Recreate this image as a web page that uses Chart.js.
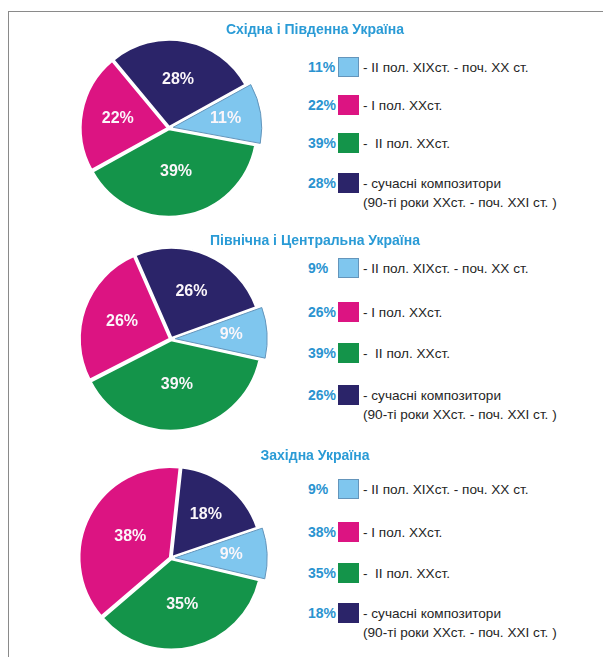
<!DOCTYPE html>
<html>
<head>
<meta charset="utf-8">
<script src="https://cdn.jsdelivr.net/npm/chart.js@4.4.1/dist/chart.umd.min.js"></script>
<style>
  html, body { margin: 0; padding: 0; background: #fff; overflow: hidden; }
  body { width: 603px; height: 657px; position: relative; font-family: Arial, "Liberation Sans", sans-serif; }
  .frame { position: absolute; left: 8px; top: 11px; right: -2px; bottom: -2px; border-top: 1px solid #8a8a8a; border-left: 1px solid #8a8a8a; }
  canvas { position: absolute; }
  .title { position: absolute; width: 280px; margin-left: -140px; text-align: center; color: #2a9bd6; font-weight: bold; font-size: 14px; line-height: 16px; }
  .row { position: absolute; left: 308px; height: 20px; }
  .pct { position: absolute; left: 0; top: 2px; color: #2a93d0; font-weight: bold; font-size: 14px; line-height: 16px; }
  .box { position: absolute; left: 30px; top: 0; width: 21px; height: 20px; box-sizing: border-box; }
  .lbl { position: absolute; left: 55px; top: 1px; white-space: pre; color: #252525; font-size: 13.6px; line-height: 19px; }
</style>
</head>
<body>
<div class="frame"></div>

<script>
// categories in legend order
const categories = [
  '- II пол. XIXст. - поч. XX ст.',
  '- I пол. XXст.',
  '-  II пол. XXст.',
  '- сучасні композитори\n(90-ті роки XXст. - поч. XXI ст. )'
];
const regions = ['Східна і Південна Україна', 'Північна і Центральна Україна', 'Західна Україна'];

// shares, %, legend order
const eastSouth = [11, 22, 39, 28];
const northCentre = [9, 26, 39, 26];
const west = [9, 38, 35, 18];

// the pies go clockwise: light blue, green, pink, navy
const drawOrder = [0, 2, 1, 3];

const colors = ['#7fc6ee', '#dc1482', '#14944a', '#2b2469'];
const borders = ['#6495bb', '#dc1482', '#14944a', '#2b2469'];

// layout of each block (pie centre, radius, start angle, title and legend rows)
const blocks = [
  { data: eastSouth, cx: 169, cy: 128, r: 87, rot: 61, titleY: 21, rows: [57, 95, 133, 173] },
  { data: northCentre, cx: 171, cy: 339, r: 90, rot: 70, titleY: 232, rows: [258, 302, 343, 385] },
  { data: west, cx: 171, cy: 558, r: 90, rot: 71, titleY: 447, rows: [479, 522, 563, 603] }
];

const sliceLabels = {
  id: 'sliceLabels',
  afterDatasetsDraw(chart) {
    const ctx = chart.ctx;
    const ds = chart.data.datasets[0];
    chart.getDatasetMeta(0).data.forEach((arc, i) => {
      const p = arc.getProps(['x', 'y', 'startAngle', 'endAngle', 'outerRadius']);
      const mid = (p.startAngle + p.endAngle) / 2;
      // big slices carry their label a bit nearer the centre
      const k = 0.72 - 0.0055 * ds.data[i];
      const x = p.x + Math.cos(mid) * p.outerRadius * k;
      const y = p.y + Math.sin(mid) * p.outerRadius * k;
      ctx.save();
      ctx.fillStyle = '#fbf6fa';
      ctx.font = 'bold 16px Arial, "Liberation Sans", sans-serif';
      ctx.textAlign = 'center';
      ctx.textBaseline = 'middle';
      ctx.fillText(ds.data[i] + '%', x, y);
      ctx.restore();
    });
  }
};

blocks.forEach((b, n) => {
  const size = 210;
  const cv = document.createElement('canvas');
  cv.width = size; cv.height = size;
  cv.style.left = (b.cx - size / 2) + 'px';
  cv.style.top = (b.cy - size / 2) + 'px';
  document.body.appendChild(cv);

  const t = document.createElement('div');
  t.className = 'title';
  t.style.left = '315px';
  t.style.top = b.titleY + 'px';
  t.textContent = regions[n];
  document.body.appendChild(t);

  categories.forEach((c, i) => {
    const row = document.createElement('div');
    row.className = 'row';
    row.style.top = b.rows[i] + 'px';
    row.innerHTML = '<span class="pct"></span><span class="box"></span><span class="lbl"></span>';
    row.querySelector('.pct').textContent = b.data[i] + '%';
    const box = row.querySelector('.box');
    box.style.background = colors[i];
    if (i === 0) box.style.border = '1px solid ' + borders[0];
    row.querySelector('.lbl').textContent = c;
    document.body.appendChild(row);
  });

  new Chart(cv.getContext('2d'), {
    type: 'pie',
    data: {
      labels: drawOrder.map(i => categories[i]),
      datasets: [{
        data: drawOrder.map(i => b.data[i]),
        backgroundColor: drawOrder.map(i => colors[i]),
        borderColor: drawOrder.map(i => i === 0 ? borders[0] : '#ffffff'),
        borderWidth: drawOrder.map(i => i === 0 ? 1 : 2),
        offset: drawOrder.map(i => i === 0 ? 17 : 5)
      }]
    },
    options: {
      responsive: false,
      animation: false,
      radius: b.r,
      rotation: b.rot,
      plugins: { legend: { display: false }, tooltip: { enabled: false } },
      events: []
    },
    plugins: [sliceLabels]
  });
});
</script>
</body>
</html>
